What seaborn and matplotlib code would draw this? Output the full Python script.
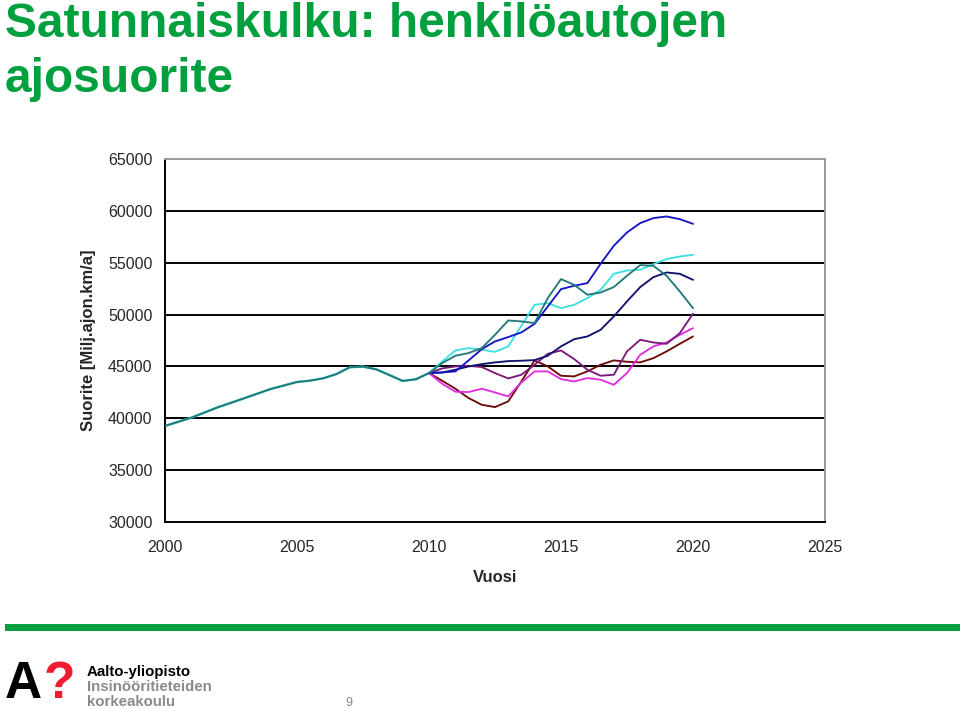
import matplotlib
matplotlib.use("Agg")
import matplotlib.pyplot as plt
import seaborn as sns
import pandas as pd
import numpy as np

# ---------------- data ----------------
hist_years = [2000, 2001, 2002, 2003, 2004, 2005, 2005.5, 2006, 2006.5, 2007,
              2007.5, 2008, 2008.5, 2009, 2009.5, 2010]
hist_values = [39260, 40060, 41060, 41930, 42820, 43500, 43630, 43860, 44270, 44920,
               44980, 44720, 44170, 43600, 43760, 44360]

scen_years = [2010, 2010.5, 2011, 2011.5, 2012, 2012.5, 2013, 2013.5, 2014, 2014.5,
              2015, 2015.5, 2016, 2016.5, 2017, 2017.5, 2018, 2018.5, 2019, 2019.5, 2020]

scen_blue = [44360, 44420, 44520, 45580, 46670, 47410, 47830, 48280, 49110, 50780,
             52450, 52780, 53030, 54900, 56630, 57920, 58820, 59300, 59460, 59200, 58750]
scen_cyan = [44360, 45480, 46540, 46770, 46610, 46410, 46930, 48920, 50940, 51100,
             50620, 50940, 51590, 52390, 53930, 54250, 54320, 54860, 55350, 55600, 55760]
scen_navy = [44360, 44420, 44680, 45000, 45220, 45390, 45510, 45550, 45610, 46030,
             46930, 47630, 47890, 48530, 49820, 51270, 52650, 53610, 54060, 53930, 53350]
scen_teal = [44360, 45320, 46030, 46290, 46770, 48050, 49430, 49340, 49180, 51590,
             53420, 52870, 51910, 52130, 52650, 53740, 54770, 54700, 53740, 52230, 50620]
scen_purple = [44360, 44810, 45000, 45060, 44940, 44360, 43840, 44200, 45160, 46220,
               46540, 45710, 44680, 44100, 44200, 46450, 47570, 47310, 47180, 48210, 50080]
scen_magenta = [44360, 43330, 42560, 42530, 42850, 42490, 42110, 43460, 44520, 44520,
                43780, 43550, 43880, 43720, 43230, 44360, 46120, 46930, 47310, 48050, 48690]
scen_darkred = [44360, 43620, 42850, 41950, 41300, 41080, 41630, 43550, 45580, 45000,
                44100, 44040, 44520, 45160, 45580, 45450, 45390, 45800, 46450, 47180, 47890]

y_ticks = [30000, 35000, 40000, 45000, 50000, 55000, 60000, 65000]
x_ticks = [2000, 2005, 2010, 2015, 2020, 2025]

series = {
    "darkred": scen_darkred,
    "magenta": scen_magenta,
    "purple": scen_purple,
    "navy": scen_navy,
    "cyan": scen_cyan,
    "blue": scen_blue,
    "teal": scen_teal,
}
colors = {
    "darkred": "#6e0a0a",
    "magenta": "#e02ee0",
    "purple": "#7c1a7c",
    "navy": "#12126e",
    "cyan": "#3ee0e0",
    "blue": "#1616c4",
    "teal": "#23787a",
}

rows = []
for name, vals in series.items():
    for yr, v in zip(scen_years, vals):
        rows.append({"year": yr, "value": v, "scenario": name})
df = pd.DataFrame(rows)
hist_df = pd.DataFrame({"year": hist_years, "value": hist_values})

# ---------------- figure ----------------
sns.set_style("white")
plt.rcParams["font.family"] = ["Liberation Sans", "DejaVu Sans"]

fig = plt.figure(figsize=(9.6, 7.1), dpi=100)
ax = fig.add_axes([165 / 960, 1 - 522 / 710, 660 / 960, 363 / 710])

# horizontal grid lines
for yt in y_ticks[1:-1]:
    ax.axhline(yt, color="black", lw=1.4, zorder=1)

# historical line (cyan beneath, teal on top)
sns.lineplot(data=hist_df, x="year", y="value", color="#3ee0e0", lw=1.7, ax=ax,
             legend=False, zorder=2)
sns.lineplot(data=hist_df, x="year", y="value", color="#23787a", lw=1.4, ax=ax,
             legend=False, zorder=3)

sns.lineplot(data=df, x="year", y="value", hue="scenario", palette=colors,
             hue_order=list(series.keys()), lw=1.35, ax=ax, legend=False,
             sort=False, estimator=None, zorder=3)

ax.set_xlim(2000, 2025)
ax.set_ylim(30000, 65000)
ax.set_xticks(x_ticks)
ax.set_yticks(y_ticks)
ax.set_xticklabels([str(x) for x in x_ticks], fontsize=11.5)
ax.set_yticklabels([str(y) for y in y_ticks], fontsize=11.5)
ax.tick_params(axis="y", direction="out", length=5, width=1.2, pad=4, color="black")
ax.tick_params(axis="x", direction="out", length=5, width=1.2, pad=8, color="black")

for side in ["left", "bottom"]:
    ax.spines[side].set_color("black")
    ax.spines[side].set_linewidth(1.4)
for side in ["top", "right"]:
    ax.spines[side].set_visible(True)
    ax.spines[side].set_color("#9a9a9a")
    ax.spines[side].set_linewidth(1.4)

ax.set_xlabel("Vuosi", fontsize=12, fontweight="bold", va="center")
ax.xaxis.set_label_coords(0.5, (522 - 578) / 363)
ax.set_ylabel("Suorite [Milj.ajon.km/a]", fontsize=12, fontweight="bold", va="center")
ax.yaxis.set_label_coords((88 - 165) / 660, 0.5)

# ---------------- title ----------------
green = "#00a03e"
fig.text(5 / 960, 1 - 37 / 710, "Satunnaiskulku: henkilöautojen", color=green,
         fontsize=34.5, fontweight="bold", va="baseline", ha="left")
fig.text(5 / 960, 1 - 92 / 710, "ajosuorite", color=green,
         fontsize=34.5, fontweight="bold", va="baseline", ha="left")

# green bar
fig.patches.append(plt.Rectangle((5 / 960, 1 - 631 / 710), 955 / 960, 7 / 710,
                                 transform=fig.transFigure, color="#00a03e", lw=0))

# ---------------- footer ----------------
fig.text(5 / 960, 1 - 698 / 710, "A", color="black", fontsize=37, fontweight="bold",
         va="baseline", ha="left")
fig.text(44 / 960, 1 - 698 / 710, "?", color="#ed1c2e", fontsize=37, fontweight="bold",
         va="baseline", ha="left")
fig.text(87 / 960, 1 - 676 / 710, "Aalto-yliopisto", color="black", fontsize=10.8,
         fontweight="bold", va="baseline", ha="left")
fig.text(87 / 960, 1 - 691 / 710, "Insinööritieteiden", color="#8a8a8a", fontsize=10.8,
         fontweight="bold", va="baseline", ha="left")
fig.text(87 / 960, 1 - 706 / 710, "korkeakoulu", color="#8a8a8a", fontsize=10.8,
         fontweight="bold", va="baseline", ha="left")
fig.text(349 / 960, 1 - 706 / 710, "9", color="#8a8a8a", fontsize=9,
         va="baseline", ha="center")

fig.savefig("out.png", dpi=100)
